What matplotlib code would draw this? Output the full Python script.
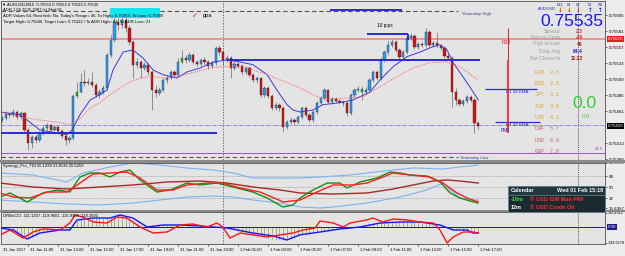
import matplotlib
matplotlib.use("Agg")
import matplotlib.pyplot as plt
import matplotlib.transforms as mtransforms
from matplotlib.patches import Rectangle
import numpy as np

plt.rcParams['font.family'] = ['Liberation Sans', 'DejaVu Sans', 'Noto Sans CJK SC']

# ---------------- data ----------------
first_open = 0.75448
closes = [
    0.75451, 0.75457, 0.75456, 0.75460, 0.75453, 0.75459, 0.75433, 0.75414, 0.75423, 0.75418,
    0.75429, 0.75436, 0.75441, 0.75433, 0.75438, 0.75432, 0.75424, 0.75418, 0.75421, 0.75484,
    0.75490, 0.75505, 0.75504, 0.75505, 0.75501, 0.75486, 0.75490, 0.75496, 0.75546, 0.75568,
    0.75595, 0.75591, 0.75598, 0.75586, 0.75565, 0.75531, 0.75535, 0.75526, 0.75531, 0.75520,
    0.75493, 0.75489, 0.75493, 0.75508, 0.75511, 0.75520, 0.75516, 0.75535, 0.75541, 0.75538,
    0.75546, 0.75535, 0.75532, 0.75538, 0.75535, 0.75529, 0.75534, 0.75556, 0.75550, 0.75538,
    0.75541, 0.75526, 0.75532, 0.75529, 0.75520, 0.75526, 0.75516, 0.75508, 0.75511, 0.75486,
    0.75496, 0.75484, 0.75466, 0.75471, 0.75466, 0.75438, 0.75445, 0.75448, 0.75445, 0.75453,
    0.75466, 0.75456, 0.75448, 0.75460, 0.75474, 0.75481, 0.75493, 0.75475, 0.75480, 0.75477,
    0.75475, 0.75474, 0.75459, 0.75486, 0.75493, 0.75495, 0.75490, 0.75493, 0.75508, 0.75520,
    0.75511, 0.75538, 0.75550, 0.75561, 0.75565, 0.75553, 0.75543, 0.75550, 0.75571, 0.75574,
    0.75558, 0.75562, 0.75561, 0.75580, 0.75561, 0.75564, 0.75559, 0.75556, 0.75544, 0.75541,
    0.75490, 0.75478, 0.75472, 0.75477, 0.75483, 0.75478, 0.75444, 0.75439]
highs = [
    0.75456, 0.75462, 0.75460, 0.75465, 0.75463, 0.75462, 0.75460, 0.75436, 0.75426, 0.75426,
    0.75432, 0.75439, 0.75444, 0.75442, 0.75441, 0.75439, 0.75435, 0.75427, 0.75426, 0.75487,
    0.75505, 0.75519, 0.75523, 0.75511, 0.75520, 0.75504, 0.75495, 0.75501, 0.75549, 0.75576,
    0.75606, 0.75601, 0.75610, 0.75603, 0.75591, 0.75568, 0.75541, 0.75538, 0.75535, 0.75534,
    0.75523, 0.75501, 0.75498, 0.75511, 0.75516, 0.75523, 0.75523, 0.75541, 0.75553, 0.75546,
    0.75550, 0.75549, 0.75538, 0.75541, 0.75543, 0.75538, 0.75537, 0.75559, 0.75561, 0.75553,
    0.75546, 0.75544, 0.75535, 0.75535, 0.75532, 0.75529, 0.75529, 0.75519, 0.75514, 0.75513,
    0.75499, 0.75499, 0.75487, 0.75475, 0.75474, 0.75469, 0.75448, 0.75453, 0.75451, 0.75456,
    0.75469, 0.75469, 0.75459, 0.75463, 0.75477, 0.75484, 0.75496, 0.75495, 0.75483, 0.75483,
    0.75480, 0.75478, 0.75477, 0.75489, 0.75496, 0.75499, 0.75499, 0.75498, 0.75511, 0.75523,
    0.75523, 0.75543, 0.75553, 0.75568, 0.75570, 0.75568, 0.75556, 0.75553, 0.75576, 0.75579,
    0.75577, 0.75565, 0.75565, 0.75586, 0.75583, 0.75567, 0.75580, 0.75562, 0.75559, 0.75547,
    0.75544, 0.75496, 0.75481, 0.75480, 0.75486, 0.75486, 0.75481, 0.75447]
lows = [
    0.75445, 0.75448, 0.75451, 0.75453, 0.75450, 0.75450, 0.75430, 0.75403, 0.75406, 0.75414,
    0.75415, 0.75426, 0.75433, 0.75430, 0.75432, 0.75427, 0.75421, 0.75411, 0.75414, 0.75418,
    0.75481, 0.75489, 0.75499, 0.75501, 0.75498, 0.75483, 0.75481, 0.75487, 0.75493, 0.75543,
    0.75565, 0.75583, 0.75586, 0.75580, 0.75561, 0.75511, 0.75526, 0.75511, 0.75523, 0.75516,
    0.75463, 0.75483, 0.75486, 0.75490, 0.75504, 0.75508, 0.75511, 0.75513, 0.75532, 0.75534,
    0.75535, 0.75532, 0.75529, 0.75529, 0.75532, 0.75525, 0.75526, 0.75531, 0.75546, 0.75531,
    0.75535, 0.75511, 0.75523, 0.75526, 0.75516, 0.75517, 0.75513, 0.75505, 0.75504, 0.75483,
    0.75483, 0.75481, 0.75463, 0.75463, 0.75462, 0.75430, 0.75435, 0.75442, 0.75441, 0.75442,
    0.75450, 0.75453, 0.75445, 0.75445, 0.75457, 0.75471, 0.75478, 0.75472, 0.75472, 0.75474,
    0.75472, 0.75469, 0.75454, 0.75456, 0.75483, 0.75490, 0.75478, 0.75487, 0.75490, 0.75505,
    0.75508, 0.75508, 0.75535, 0.75546, 0.75558, 0.75550, 0.75540, 0.75540, 0.75547, 0.75568,
    0.75555, 0.75555, 0.75558, 0.75558, 0.75558, 0.75558, 0.75556, 0.75553, 0.75541, 0.75538,
    0.75468, 0.75471, 0.75469, 0.75469, 0.75474, 0.75475, 0.75429, 0.75435]
signal_bars = [20, 48, 96]

blue_ma_x = [-0.5, 4.8, 10.1, 17.3, 18.7, 20.8, 23.5, 26.1, 28, 29.6, 32.3, 34.9, 37.6, 40.3, 42.9,
             46.7, 49.3, 52.8, 56.3, 60, 63.5, 66.9, 70.7, 73.3, 76, 77.6, 79.5, 82.9, 85.6, 90.1,
             93.6, 98.1, 100.8, 104.3, 108, 111.5, 114.9, 116.8, 118.7, 120.3, 122.9, 125.3, 127]
blue_ma = [0.75460, 0.75456, 0.75433, 0.75426, 0.75433, 0.75456, 0.75478, 0.75486, 0.75493, 0.75523,
           0.75550, 0.75553, 0.75541, 0.75523, 0.75516, 0.75511, 0.75520, 0.75526, 0.75535, 0.75538,
           0.75535, 0.75531, 0.75516, 0.75493, 0.75471, 0.75463, 0.75460, 0.75463, 0.75471, 0.75474,
           0.75478, 0.75490, 0.75508, 0.75528, 0.75543, 0.75550, 0.75558, 0.75561, 0.75553, 0.75534,
           0.75513, 0.75493, 0.75478]
red_ma_x = [-0.5, 4.8, 10.1, 15.5, 18.1, 20.8, 23.5, 26.1, 28.8, 31.5, 34.1, 36.8, 39.5, 44, 47.5,
            50.9, 55.5, 58.9, 63.5, 66.9, 70.7, 76, 79.5, 82.9, 84.8, 90.1, 96.3, 100.8, 105.3,
            109.6, 114.1, 118.7, 122.1, 127]
red_ma = [0.75460, 0.75453, 0.75448, 0.75444, 0.75441, 0.75450, 0.75466, 0.75474, 0.75486, 0.75496,
          0.75505, 0.75511, 0.75513, 0.75511, 0.75514, 0.75519, 0.75526, 0.75528, 0.75528, 0.75523,
          0.75516, 0.75504, 0.75496, 0.75486, 0.75481, 0.75480, 0.75483, 0.75498, 0.75513, 0.75526,
          0.75534, 0.75535, 0.75528, 0.75508]

# horizontal levels (price)
yesterday_high = 0.75612
yesterday_low = 0.75393
r38_level = 0.75570
fib_level = 0.75399
pmi_level = 0.75441
blue_levels = [0.75429, 0.75538, 0.75577, 0.75613]
blue_level_from = [-0.3, 60.0, 97.3, 87.5]
blue_level_to = [57.3, 127.5, 108.3, 106.7]
h1_ema, h4_ema = 0.75495, 0.75445
price_ticks = [0.75605, 0.75581, 0.75557, 0.75533, 0.75509, 0.75485, 0.75461, 0.75413, 0.75389]

# TDI
tdi_green_x = [-0.5, 2.1, 6.7, 10.9, 14.7, 18.1, 20.8, 23.5, 26.1, 28.8, 31.5, 34.1, 36.8, 41.3,
               44.8, 49.3, 52.8, 57.3, 61.6, 66.9, 70.7, 74.9, 77.6, 79.5, 82.9, 86.7, 90.1, 92,
               95.5, 100, 103.5, 106.1, 108.8, 113.3, 116.8, 119.5, 122.1, 124.8, 126.9]
tdi_green = [33.6, 40.2, 25.5, 40.2, 45.1, 41.8, 66.4, 72.9, 72.9, 66.4, 74.5, 77.8, 61.5, 41.8,
             45.1, 56.5, 53.3, 56.5, 50.0, 41.8, 32.0, 17.3, 20.6, 32.0, 45.1, 56.5, 56.5, 48.4,
             58.2, 64.7, 74.5, 72.9, 69.6, 68.0, 58.2, 40.2, 32.0, 27.1, 23.8]
tdi_red_x = [-0.5, 3, 7.5, 12, 17.3, 20.8, 24.3, 28.8, 33.3, 36.8, 41.3, 45.6, 49.3, 54.7, 58.9,
             63.5, 68.8, 75, 79.5, 84, 88.3, 93.6, 97.3, 101.6, 104.3, 108.8, 114.1, 117.6, 121.3,
             124, 127]
tdi_red = [40.2, 33.6, 32.0, 41.8, 41.8, 56.5, 71.3, 72.9, 74.5, 64.7, 45.1, 45.1, 53.3, 56.5,
           56.5, 48.4, 41.8, 25.5, 28.7, 41.8, 53.3, 53.3, 56.5, 66.4, 72.9, 69.6, 66.4, 56.5,
           40.2, 32.0, 25.5]
tdi_base_x = [-0.5, 8.3, 17.3, 26.1, 34.9, 44, 52.8, 60, 66.9, 74.1, 79.5, 88.3, 97.3, 104.3,
              109.6, 115, 118.7, 122.1, 127]
tdi_base = [56.5, 50.0, 46.7, 50.0, 53.3, 58.2, 59.8, 56.5, 50.0, 45.1, 40.2, 38.5, 40.2, 46.7,
            53.3, 59.8, 61.5, 59.8, 56.5]
tdi_upper_x = [-0.5, 8.3, 17.3, 21.6, 28.8, 34.9, 42.1, 49.3, 56.3, 61.6, 66.9, 74.1, 79.5, 84.8,
               92.8, 97.3, 104.3, 109.6, 117.6, 122.1, 127]
tdi_upper = [72.9, 69.6, 58.2, 72.9, 82.7, 89.3, 86.0, 81.1, 77.8, 72.9, 64.7, 64.7, 64.7, 66.4,
             69.6, 72.9, 77.8, 81.1, 79.5, 82.7, 86.0]
tdi_lower_x = [-0.5, 8.3, 17.3, 26.1, 34.9, 42.1, 49.3, 56.3, 61.6, 66.9, 74.1, 79.5, 84.8, 88.3,
               97.3, 106.1, 113.3, 117.6, 119.5, 122.1, 124.8, 127]
tdi_lower = [28.7, 25.5, 22.2, 20.6, 23.8, 28.7, 33.6, 35.2, 33.6, 28.7, 23.8, 17.3, 15.6, 17.3,
             23.8, 33.6, 45.1, 56.5, 45.1, 32.0, 28.7, 28.7]
tdi_levels = [68, 50, 32]
tdi_ticks = [89.3769, 68, 50, 32, 15.6367]
tdi_tick_labels = ["89.3769", "68", "50", "32", "15.6367"]

# CCI
cci_red_x = [-0.5, 2.1, 5.6, 8.3, 10.9, 15.5, 18.1, 19.5, 21.6, 24.3, 28, 30.7, 33.3, 36.8, 40.3,
             44, 47.5, 50.9, 54.7, 57.3, 58.9, 60.8, 63.5, 67, 70.7, 74.1, 77.6, 80.3, 83.5, 84.8,
             88.3, 91, 92.8, 97.3, 98.9, 101.6, 104.3, 108, 111.5, 115, 116.8, 118.7, 120.3, 123,
             125.6, 127]
cci_red = [-174, -65, -240, -109, -44, -65, 87, 262, 218, 109, 87, 218, 196, 0, -131, -109, 44,
           65, 0, 87, 0, -240, -131, -174, -218, -174, -131, -65, -22, 131, 87, 0, 87, 153, 196,
           109, 174, 153, 109, 87, -65, -349, -218, -109, -109, -131]
cci_blue_x = [-0.5, 3, 6.7, 10.1, 15.5, 18.1, 20, 24.3, 28.8, 31.5, 34.9, 38.7, 43, 47.5, 52.8,
              60, 66.9, 72.3, 76, 79.5, 84.8, 90.1, 95.5, 100.8, 106.1, 111.5, 116.8, 120.3, 124,
              125.6, 127]
cci_blue = [-22, -65, -262, -131, -65, -65, 153, 196, 196, 262, 196, 0, 44, 44, 22, -22, -131,
            -196, -283, -170, -109, -44, 0, 87, 109, 109, 44, -65, -65, -131, -131]
cci_hist = [-20, -30, -45, -65, -120, -180, -240, -262, -220, -170, -131,
            -110, -90, -80, -70, -65, -65, -65, -60, 20,
            150, 170, 185, 195, 196, 196, 196, 196, 200, 196,
            240, 262, 250, 230, 196, 150, 90, 40, 0,
            10, 20, 35, 44, 44, 44, 44, 44, 40, 35,
            30, 25, 22, 22, 20, 15, 10, 5, 0, -10, -22,
            -30, -50, -70, -90, -110, -131, -150, -160, -180, -196,
            -210, -240, -260, -283, -283, -283, -260, -240, -220, -196,
            -180, -165, -153, -130, -109, -100, -80, -60, -50, -44,
            -40, -30, -20, -10, 0, 20, 40, 60, 75, 87,
            90, 100, 109, 109, 109, 109, 109, 109, 109, 109,
            109, 109, 100, 90, 80, 60, 44, 20, 0, -30,
            -65, -65, -65, -65, -70, -109, -120, -131]

time_labels = ["31 Jan 2017", "31 Jan 11:00", "31 Jan 13:00", "31 Jan 15:00", "31 Jan 17:00",
               "31 Jan 19:00", "31 Jan 21:00", "31 Jan 23:00", "1 Feb 01:00", "1 Feb 03:00",
               "1 Feb 05:00", "1 Feb 07:00", "1 Feb 09:00", "1 Feb 11:00", "1 Feb 13:00",
               "1 Feb 15:00", "1 Feb 17:00"]

currencies = ["EUR", "NZD", "JPY", "AUD", "CAD", "CHF", "USD", "GBP"]
strength = [2.6, 2.6, 3.1, 3.6, 4.3, 5.7, 6.6, 7.0]

info_labels = ["Spread", "Pips to Open", "High to Low", "Daily Avg", "Bar Closes In"]
info_values = ["2.3", "-29", "46", "64.4", "11:22"]
info_colors = ["#c03030", "#e02020", "#a02020", "#2020d0", "#a02020"]

# ---------------- figure ----------------
W, H = 625, 256
BG = '#e4e4e4'
fig = plt.figure(figsize=(W / 100, H / 100), dpi=100, facecolor='#ececec')


def fx(x):
    return x / W


def fy(y):
    return 1 - y / H


def ptext(x, y, s, **kw):
    kw.setdefault('fontsize', 3.0)
    kw.setdefault('va', 'center')
    kw.setdefault('color', 'black')
    return fig.text(fx(x), fy(y), s, **kw)


X_LEFT, X_RIGHT = 1, 605


def add_panel(ytop, ybot):
    a = fig.add_axes([fx(X_LEFT), fy(ybot), (X_RIGHT - X_LEFT) / W, (ybot - ytop) / H])
    a.set_facecolor(BG)
    for s in a.spines.values():
        s.set_color('#505050')
        s.set_linewidth(0.6)
    return a


ax = add_panel(0.5, 159.5)
ax_tdi = add_panel(162.5, 209.5)
ax_cci = add_panel(212, 244)

XMIN, XMAX = (X_LEFT - 2) / 3.75, (X_RIGHT - 2) / 3.75
for a in (ax, ax_tdi, ax_cci):
    a.set_xlim(XMIN, XMAX)
    a.yaxis.tick_right()
    a.tick_params(axis='y', labelsize=3.2, length=1.5, width=0.4, pad=1.2, colors='black')
    a.tick_params(axis='x', length=0)
    a.set_xticks([])

ax.set_ylim(0.7538875, 0.7562725)
ax_tdi.set_ylim(13.19, 90.09)
ax_cci.set_ylim(-370.6, 327.0)

# ---- main: candles ----
idx = np.arange(len(closes))
c = np.array(closes)
o = np.array([first_open] + closes[:-1])
hi = np.array(highs)
lo = np.array(lows)
body_col = np.where(c >= o, '#2a9df4', '#dd1111').astype(object)
for i in signal_bars:
    body_col[i] = '#22c022'
ax.vlines(idx, lo, hi, color='#6a6a6a', lw=0.5, zorder=3)
bottom = np.minimum(o, c)
height = np.maximum(np.abs(c - o), 0.000012)
ax.bar(idx, height, bottom=bottom, width=0.62, color=list(body_col), edgecolor='#1a1a1a',
       linewidth=0.25, zorder=4)

ax.plot(blue_ma_x, blue_ma, color='#3a3ad8', lw=0.7, zorder=5)
ax.plot(red_ma_x, red_ma, color='#ff5a5a', lw=0.7, ls=(0, (1, 1.2)), zorder=5)

# levels
ax.axhline(r38_level, color='#f08c8c', lw=1.3, zorder=2)
ax.axhline(fib_level, color='#a050c8', lw=0.7, zorder=2)
ax.axhline(pmi_level, color='#8a8ae0', lw=0.7, ls=(0, (4, 1, 1, 1)), zorder=2)
ax.hlines([yesterday_high, yesterday_low], XMIN, 121.6, color='#555555', lw=0.8,
          linestyles=(0, (4, 2.5)), zorder=2)
ax.hlines(blue_levels, blue_level_from, blue_level_to, color='#2a2ad8', lw=1.4, zorder=6)
ax.vlines(108.3, 0.75568, 0.75577, color='#2a2ad8', lw=1.4, zorder=6)
ax.hlines([h1_ema, h4_ema], [128.8, 131.5], [142.7, 143.5], color='#2a2ad8', lw=0.9, zorder=6)
ax.vlines(134.9, 0.75538, 0.75586, color='#b01010', lw=0.6, zorder=6)
ax.vlines(134.9, 0.75429, 0.75538, color='#ff1a1a', lw=1.2, zorder=6)

# vertical separators across panels
for a in (ax, ax_tdi, ax_cci):
    a.axvline(59, color='#404040', lw=0.5, ls=(0, (2, 2)), zorder=1)
    a.axvline(153.6, color='#202020', lw=0.5, ls=(0, (1.5, 1.5)), zorder=1)

# price axis
ax.set_yticks(price_ticks)
ax.set_yticklabels(["%.5f" % p for p in price_ticks])
btrans = mtransforms.blended_transform_factory(ax.transAxes, ax.transData)
ax.text(1.004, r38_level, "%.5f" % r38_level, transform=btrans, fontsize=3.2, color='white',
        va='center', ha='left', bbox=dict(boxstyle='square,pad=0.2', fc='#e02020', ec='none'),
        clip_on=False, zorder=10)
ax.text(1.004, closes[-1], "%.5f" % closes[-1], transform=btrans, fontsize=3.2, color='white',
        va='center', ha='left', bbox=dict(boxstyle='square,pad=0.2', fc='black', ec='none'),
        clip_on=False, zorder=10)

# ---- TDI ----
for lv in tdi_levels:
    ax_tdi.axhline(lv, color='#808080', lw=0.5, ls=(0, (1, 1.5)), zorder=1)
ax_tdi.plot(tdi_upper_x, tdi_upper, color='#78b4f0', lw=0.8, zorder=2)
ax_tdi.plot(tdi_lower_x, tdi_lower, color='#78b4f0', lw=0.8, zorder=2)
ax_tdi.plot(tdi_base_x, tdi_base, color='#a82828', lw=1.0, zorder=3)
ax_tdi.plot(tdi_green_x, tdi_green, color='#129012', lw=1.0, zorder=4)
ax_tdi.plot(tdi_red_x, tdi_red, color='#ff1e1e', lw=1.0, zorder=5)
ax_tdi.set_yticks(tdi_ticks)
ax_tdi.set_yticklabels(tdi_tick_labels)

# ---- CCI ----
ax_cci.axhline(0, color='#1a1a90', lw=0.7, zorder=2)
ax_cci.vlines(idx, 0, cci_hist, color='#7a7a7a', lw=0.4, zorder=1)
ax_cci.plot(cci_red_x, cci_red, color='#ff1414', lw=1.0, zorder=4)
ax_cci.plot(cci_blue_x, cci_blue, color='#1414ff', lw=1.0, zorder=3)
ax_cci.set_yticks([306.4912, -348.5178])
ax_cci.set_yticklabels(["306.4912", "-348.5178"])
ax_cci.tick_params(axis='y', labelsize=2.7, pad=0.8)
ctrans = mtransforms.blended_transform_factory(ax_cci.transAxes, ax_cci.transData)
ax_cci.text(1.004, 0, "0.00", transform=ctrans, fontsize=3.2, color='white', va='center',
            ha='left', bbox=dict(boxstyle='square,pad=0.2', fc='#1a1a90', ec='none'),
            clip_on=False, zorder=10)

# time axis
time_ticks = [-1 + 8 * k for k in range(len(time_labels))]
ax_cci.set_xticks([t for t in time_ticks if t >= XMIN])
ax_cci.tick_params(axis='x', length=1.5, width=0.4, labelbottom=False)
ttrans = mtransforms.blended_transform_factory(ax_cci.transData, ax_cci.transAxes)
for t, lab in zip(time_ticks, time_labels):
    ax_cci.text(max(t, XMIN) + 0.5, -0.19, lab, transform=ttrans, fontsize=3.0, ha='left',
                va='center', clip_on=False)

# panel separators
for y0, y1 in [(159.5, 162.5), (209.5, 212)]:
    fig.patches.append(Rectangle((fx(0), fy(y1)), 1, (y1 - y0) / H, transform=fig.transFigure,
                                 fc='#8a8a8a', ec='none', zorder=0))

# ---- texts on main panel ----
fig.patches.append(Rectangle((fx(110), fy(18)), 50 / W, 10 / H, transform=fig.transFigure,
                             fc='#14e6f0', ec='none', zorder=1))
ptext(2.5, 4.5, "\u25bc AUDUSD,M15  0.75553 0.75563 0.75523 0.75535", fontsize=3.0)
ptext(3, 10, "ADR 1.06 2005-2007 (c) Mod 01", fontsize=3.0)
ptext(3, 16.5, "ADR Values 64, Reached= No, Today's Range= 46, To High= 0.75959, To Low= 0.75900",
      fontsize=3.0)
ptext(3, 22.5, "Target High= 0.75540, Target Low= 0.75322 / To ADR High= 62, To ADR Low= 21",
      fontsize=3.0)
ptext(192, 16, "\u2713", fontsize=5, color='#e02020', family=['DejaVu Sans'])
ptext(203, 16, "ppa", fontsize=4.0)
ptext(377, 26, "10 pips", fontsize=3.4)
ptext(462, 14, "Yesterday High", fontsize=3.2, color='#3a3a90')
ptext(460, 158, "Yesterday Low", fontsize=3.2, color='#3a3a90')
ptext(502, 43, "R38", fontsize=3.6, color='#e02020')
ptext(506, 92, "H1 34 EMA", fontsize=3.2, color='#2020c0')
ptext(506, 125, "H4 34 EMA", fontsize=3.2, color='#2020c0')
ptext(501, 130.5, "PMI", fontsize=3.6, color='#2020c0')
ptext(603, 149, "41.8", fontsize=3.0, color='#a050c8', ha='right')

# right info block
ptext(556, 9.5, "AUDUSD", fontsize=3.0, color='#2020d0', ha='right')
for k, tf in enumerate(["M15", "H1", "H4", "D1", "W1"]):
    xs = [560, 569, 578, 590, 600][k]
    ptext(xs, 5.0, tf, fontsize=2.4, color='#2020a0', ha='center')
    up = k >= 3
    ptext(xs, 10.0, "\u2191" if up else "\u2193", fontsize=4.0, ha='center',
          color='#1a1ae0' if up else '#e01a1a', family=['DejaVu Sans'], weight='bold')
ptext(603, 21, "0.75535", fontsize=12.5, color='#1a1ae0', ha='right')
for k, (lab, val, col) in enumerate(zip(info_labels, info_values, info_colors)):
    yy = [31.5, 37.5, 44, 51.5, 58.5][k]
    ptext(560, yy, lab, fontsize=3.6, color='#9a9a9a', ha='right')
    ptext(583, yy, val, fontsize=3.6, color=col, ha='right', weight='bold')
for k, (cur, s) in enumerate(zip(currencies, strength)):
    col = '#d8a030' if k < 5 else '#c05a5a'
    ptext(535, 72 + 11.4 * k, "%s  %.1f" % (cur, s), fontsize=3.6, color=col,
          family=['Liberation Mono'])
ptext(584, 103, "0.0", fontsize=12.5, color='#33cc33', ha='center')
ptext(586, 117, "0.0", fontsize=4.2, color='#44cc44', ha='center')

# indicator titles
ptext(3, 166.5, "Synergy_Pro_TDI 56.1299 23.8136 25.5259", fontsize=3.0)
ptext(3, 216, "DRBsCCI -111.1207 -119.9601 -115.9303 -118.3500", fontsize=3.0)

# calendar box
fig.patches.append(Rectangle((fx(508), fy(212)), 97 / W, 26 / H, transform=fig.transFigure,
                             fc='#1b2a31', ec='#6a8890', lw=0.6, zorder=20))
fig.patches.append(Rectangle((fx(508), fy(195)), 97 / W, 9 / H, transform=fig.transFigure,
                             fc='#22363e', ec='#6a8890', lw=0.5, zorder=20))
ptext(511, 190.5, "Calendar", fontsize=4.0, color='white', weight='bold', zorder=21)
ptext(603, 190.5, "Wed 01 Feb 15:18", fontsize=4.0, color='white', weight='bold', ha='right',
      zorder=21)
ptext(511, 199.5, "-18m", fontsize=4.0, color='#40e040', weight='bold', zorder=21)
ptext(530, 199.5, "\u2460 USD ISM Man PMI", fontsize=4.0, color='#ff2a2a', weight='bold',
      zorder=21)
ptext(511, 207.5, "12m", fontsize=4.0, color='white', weight='bold', zorder=21)
ptext(530, 207.5, "\u2460 USD Crude Oil", fontsize=4.0, color='#ff2a2a', weight='bold',
      zorder=21)

fig.savefig("out.png", dpi=100, facecolor=fig.get_facecolor())
